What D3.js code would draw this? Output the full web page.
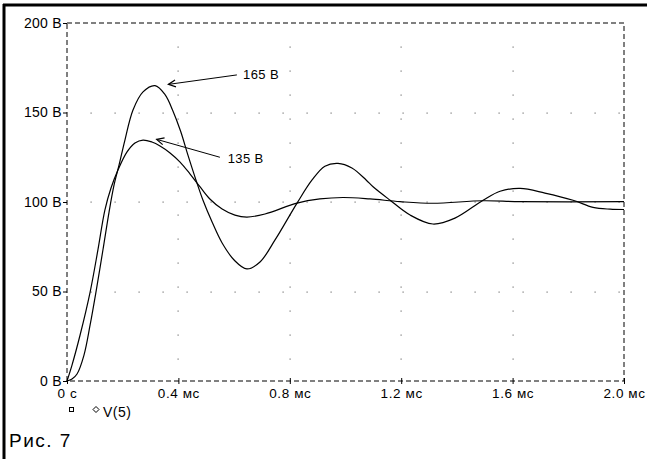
<!DOCTYPE html>
<html>
<head>
<meta charset="utf-8">
<script src="https://cdn.jsdelivr.net/npm/d3@7"></script>
<style>
    body { margin: 0; background: #fff; }
    text { font-family: "Liberation Sans", Arial, sans-serif; fill: #000; }
</style>
</head>
<body>
<script>
// axis ticks
var xTicks = [0, 0.4, 0.8, 1.2, 1.6, 2.0];
var xTickLabels = ["0 с", "0.4 мс", "0.8 мс", "1.2 мс", "1.6 мс", "2.0 мс"];
var yTicks = [0, 50, 100, 150, 200];
var yTickLabels = ["0 В", "50 В", "100 В", "150 В", "200 В"];

// curve with the bigger overshoot (peak 165 V), time in ms, voltage in V
var timeA = [0, 0.018, 0.036, 0.061, 0.083, 0.104, 0.129, 0.151, 0.169, 0.187, 0.208, 0.237, 0.273, 0.316, 0.352, 0.38, 0.408, 0.434, 0.463, 0.488, 0.521, 0.557, 0.6, 0.646, 0.693, 0.747, 0.826, 0.88, 0.926, 0.973, 1.023, 1.074, 1.099, 1.16, 1.232, 1.314, 1.393, 1.494, 1.555, 1.627, 1.716, 1.817, 1.889, 1.95, 2.0];
var voltA = [0, 1.1, 3.9, 14.5, 31.3, 49.7, 73.2, 94.4, 109.5, 120.7, 134.6, 151.4, 161.5, 165, 160, 151, 139.5, 126.3, 112.3, 101.1, 88.8, 77.1, 67.6, 62.6, 66.5, 78.8, 99.4, 112.3, 120, 121.6, 119, 112.3, 108.5, 101, 92.7, 87.7, 91, 101, 106, 107.6, 105, 101, 97, 96, 95.8];

// curve with the smaller overshoot (peak 135 V)
var timeB = [0, 0.018, 0.047, 0.083, 0.111, 0.136, 0.158, 0.183, 0.215, 0.244, 0.273, 0.305, 0.334, 0.37, 0.406, 0.442, 0.478, 0.513, 0.557, 0.603, 0.646, 0.711, 0.826, 0.908, 0.991, 1.088, 1.196, 1.314, 1.494, 1.627, 2.0];
var voltB = [0, 8.9, 25.7, 49.7, 73.2, 95.5, 107.8, 117.9, 127.9, 133, 134.6, 133.5, 131.3, 127.4, 122.3, 115.6, 108.4, 101.7, 96.1, 92.7, 91.6, 93.3, 99.4, 101.7, 102.5, 101.7, 100.2, 99.3, 100.7, 100.2, 100.2];

// annotations: label, arrow tip, arrow tail, text position (data units)
var noteLabels = ["165 В", "135 В"];
var noteTip = [[0.364, 165.7], [0.322, 135]];
var noteTail = [[0.61, 171], [0.549, 125]];
var noteText = [[0.632, 168.7], [0.577, 121.8]];

function init() {
    var w = 647;
    var h = 459;

    var xScale = d3.scaleLinear()
                    .domain([0, 2])
                    .range([67, 624]);
    var yScale = d3.scaleLinear()
                    .domain([0, 200])
                    .range([381, 23]);

    var svg = d3.select("body")
                .append("svg")
                .attr("width", w)
                .attr("height", h);

    var x0 = xScale.range()[0], x1 = xScale.range()[1];
    var y0 = yScale.range()[0], y1 = yScale.range()[1];

    // frame (top and left edges only)
    svg.append("line").attr("x1", 3).attr("x2", w).attr("y1", 5).attr("y2", 5)
        .attr("stroke", "#000").attr("stroke-width", 3);
    svg.append("line").attr("x1", 4).attr("x2", 4).attr("y1", 4).attr("y2", h)
        .attr("stroke", "#000").attr("stroke-width", 3);

    // dotted grid
    var dots = [];
    yTicks.slice(1, -1).forEach(function(v) {
        d3.range(x0 + 24, x1, 24).forEach(function(px) { dots.push([px, yScale(v)]); });
    });
    xTicks.slice(1, -1).forEach(function(t) {
        d3.range(y1 + 24, y0, 24).forEach(function(py) { dots.push([xScale(t), py]); });
    });
    svg.selectAll(".dot")
        .data(dots)
        .enter()
        .append("rect")
        .attr("x", function(d) { return Math.round(d[0]) - 0.5; })
        .attr("y", function(d) { return Math.round(d[1]) - 0.5; })
        .attr("width", 1.2)
        .attr("height", 1.2)
        .attr("fill", "#777");

    // dashed plot box
    svg.append("rect")
        .attr("x", x0).attr("y", y1)
        .attr("width", x1 - x0).attr("height", y0 - y1)
        .attr("fill", "none")
        .attr("stroke", "#000")
        .attr("stroke-width", 1)
        .attr("stroke-dasharray", "5,3");

    // axes
    var xAxis = d3.axisBottom(xScale)
                    .tickValues(xTicks)
                    .tickSize(3)
                    .tickFormat(function(d, i) { return xTickLabels[i]; });
    var yAxis = d3.axisLeft(yScale)
                    .tickValues(yTicks)
                    .tickSize(4)
                    .tickFormat(function(d, i) { return yTickLabels[i]; });

    var gx = svg.append("g")
        .attr("transform", "translate(0," + y0 + ")")
        .call(xAxis);
    gx.select(".domain").remove();
    gx.selectAll(".tick line").attr("y1", -3);
    gx.selectAll("text")
        .attr("font-family", "Liberation Sans, Arial, sans-serif")
        .attr("font-size", 13.5)
        .attr("letter-spacing", "0.6px")
        .attr("dy", "0.85em");

    var gy = svg.append("g")
        .attr("transform", "translate(" + x0 + ",0)")
        .call(yAxis);
    gy.select(".domain").remove();
    gy.selectAll("text")
        .attr("font-family", "Liberation Sans, Arial, sans-serif")
        .attr("font-size", 14)
        .attr("letter-spacing", "0.3px")
        .attr("x", -5);

    // curves
    var line = d3.line()
                .x(function(d) { return xScale(d[0]); })
                .y(function(d) { return yScale(d[1]); })
                .curve(d3.curveCatmullRom.alpha(0.5));

    [[timeA, voltA], [timeB, voltB]].forEach(function(s) {
        svg.append("path")
            .datum(d3.zip(s[0], s[1]))
            .attr("d", line)
            .attr("fill", "none")
            .attr("stroke", "#000")
            .attr("stroke-width", 1.2);
    });

    // annotations with open arrowheads
    noteLabels.forEach(function(lbl, i) {
        var tx = xScale(noteTip[i][0]), ty = yScale(noteTip[i][1]);
        var sx = xScale(noteTail[i][0]), sy = yScale(noteTail[i][1]);
        var a = Math.atan2(sy - ty, sx - tx);
        var len = 8, spread = 0.45;
        svg.append("line")
            .attr("x1", sx).attr("y1", sy).attr("x2", tx).attr("y2", ty)
            .attr("stroke", "#000").attr("stroke-width", 1);
        svg.append("path")
            .attr("d", "M" + (tx + len * Math.cos(a + spread)) + "," + (ty + len * Math.sin(a + spread)) +
                       "L" + tx + "," + ty +
                       "L" + (tx + len * Math.cos(a - spread)) + "," + (ty + len * Math.sin(a - spread)))
            .attr("fill", "none")
            .attr("stroke", "#000")
            .attr("stroke-width", 1.2);
        svg.append("text")
            .attr("x", xScale(noteText[i][0]))
            .attr("y", yScale(noteText[i][1]))
            .attr("font-size", 13)
            .attr("letter-spacing", "0.4px")
            .text(lbl);
    });

    // legend
    svg.append("rect")
        .attr("x", 69.5).attr("y", 407.5).attr("width", 4).attr("height", 4)
        .attr("fill", "none").attr("stroke", "#000").attr("stroke-width", 1);
    svg.append("path")
        .attr("d", "M96,406.5L99,409.5L96,412.5L93,409.5Z")
        .attr("fill", "none").attr("stroke", "#000").attr("stroke-width", 1);
    svg.append("text")
        .attr("x", 103)
        .attr("y", 417)
        .attr("font-size", 14)
        .attr("letter-spacing", "0.5px")
        .text("V(5)");

    // caption
    svg.append("text")
        .attr("x", 9)
        .attr("y", 447)
        .attr("font-size", 19)
        .attr("letter-spacing", "1.5px")
        .text("Рис. 7");
}
window.onload = init;
</script>
</body>
</html>
